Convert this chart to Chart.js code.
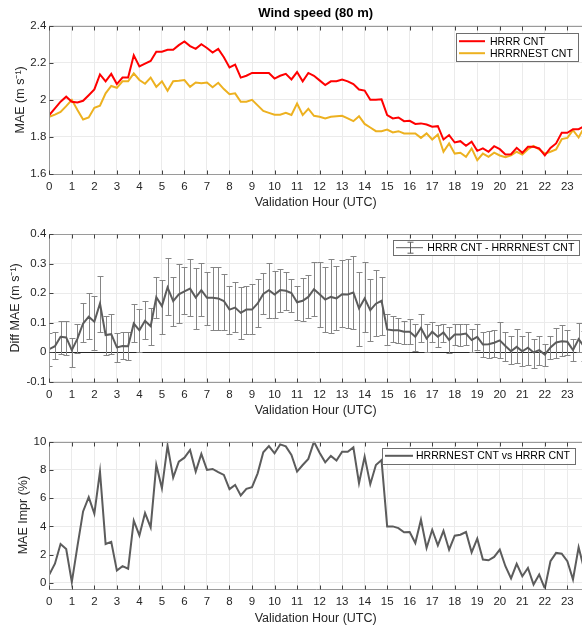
<!DOCTYPE html>
<html>
<head>
<meta charset="utf-8">
<script src="https://cdn.jsdelivr.net/npm/chart.js@4.4.1/dist/chart.umd.min.js"></script>
<style>
  html, body { margin: 0; padding: 0; background: #fff; }
  #wrap { position: relative; width: 582px; height: 628px; overflow: hidden; }
  #wrap canvas { position: absolute; left: 0; top: 0; }
</style>
</head>
<body>
<div id="wrap">
  <canvas id="speedChart" width="582" height="628"></canvas>
  <canvas id="diffChart" width="582" height="628"></canvas>
  <canvas id="imprChart" width="582" height="628"></canvas>
</div>
<script>
// validation hours, 15 min steps
const hours = [0,0.25,0.5,0.75, 1,1.25,1.5,1.75, 2,2.25,2.5,2.75, 3,3.25,3.5,3.75,
  4,4.25,4.5,4.75, 5,5.25,5.5,5.75, 6,6.25,6.5,6.75, 7,7.25,7.5,7.75,
  8,8.25,8.5,8.75, 9,9.25,9.5,9.75, 10,10.25,10.5,10.75, 11,11.25,11.5,11.75,
  12,12.25,12.5,12.75, 13,13.25,13.5,13.75, 14,14.25,14.5,14.75, 15,15.25,15.5,15.75,
  16,16.25,16.5,16.75, 17,17.25,17.5,17.75, 18,18.25,18.5,18.75, 19,19.25,19.5,19.75,
  20,20.25,20.5,20.75, 21,21.25,21.5,21.75, 22,22.25,22.5,22.75, 23,23.25,23.5,23.75];

// MAE, wind speed 80 m (m/s)
const hrrrCnt = [1.918,1.954,1.990,2.017, 1.990,1.986,1.995,2.025, 2.056,2.137,2.100,2.140,
  2.085,2.120,2.120,2.240, 2.180,2.195,2.210,2.260, 2.260,2.270,2.270,2.295,
  2.315,2.290,2.275,2.300, 2.280,2.255,2.275,2.230, 2.175,2.190,2.120,2.130,
  2.145,2.145,2.145,2.145, 2.115,2.130,2.140,2.110, 2.150,2.100,2.145,2.130,
  2.105,2.080,2.100,2.100, 2.110,2.100,2.085,2.056, 2.050,2.000,2.000,2.003,
  1.918,1.900,1.905,1.885, 1.887,1.870,1.873,1.867, 1.855,1.858,1.786,1.810,
  1.770,1.777,1.752,1.774, 1.725,1.738,1.720,1.750, 1.734,1.705,1.707,1.741,
  1.714,1.747,1.747,1.738, 1.700,1.741,1.765,1.822, 1.822,1.842,1.842,1.858];

const nestCnt = [1.909,1.920,1.935,1.966, 2.000,1.945,1.894,1.905, 1.957,1.968,2.035,2.075,
  2.065,2.100,2.100,2.143, 2.107,2.087,2.120,2.070, 2.100,2.049,2.100,2.103,
  2.107,2.070,2.094,2.090, 2.094,2.068,2.092,2.058, 2.030,2.035,1.990,1.990,
  2.000,1.970,1.940,1.930, 1.920,1.920,1.930,1.918, 1.980,1.918,1.952,1.914,
  1.909,1.900,1.909,1.912, 1.914,1.900,1.885,1.912, 1.870,1.851,1.831,1.831,
  1.840,1.824,1.831,1.819, 1.819,1.819,1.795,1.819, 1.786,1.813,1.720,1.765,
  1.710,1.715,1.693,1.738, 1.675,1.710,1.693,1.715, 1.700,1.690,1.700,1.720,
  1.705,1.734,1.752,1.732, 1.710,1.720,1.732,1.788, 1.795,1.837,1.797,1.853];

// HRRR CNT - HRRRNEST CNT, mean and error bar ends
const diffMean = [0.010,0.020,0.052,0.050, 0.007,0.046,0.097,0.120, 0.103,0.165,0.058,0.061,
  0.016,0.021,0.020,0.097, 0.074,0.106,0.088,0.186, 0.156,0.219,0.173,0.196,
  0.206,0.215,0.185,0.210, 0.184,0.184,0.182,0.173, 0.144,0.151,0.133,0.144,
  0.144,0.165,0.197,0.210, 0.195,0.210,0.208,0.200, 0.169,0.174,0.187,0.213,
  0.196,0.178,0.187,0.182, 0.196,0.195,0.202,0.148, 0.182,0.142,0.164,0.174,
  0.077,0.074,0.074,0.069, 0.069,0.052,0.082,0.046, 0.069,0.052,0.067,0.041,
  0.060,0.060,0.063,0.041, 0.052,0.026,0.027,0.032, 0.040,0.021,0.003,0.018,
  0.003,0.015,-0.001,0.007, -0.008,0.016,0.033,0.037, 0.035,0.007,0.044,0.018];

const diffHigh = [0.065,0.069,0.107,0.105, 0.049,0.095,0.165,0.199, 0.190,0.257,0.123,0.128,
  0.065,0.069,0.069,0.164, 0.146,0.173,0.148,0.254, 0.244,0.320,0.254,0.297,
  0.287,0.314,0.286,0.302, 0.272,0.289,0.287,0.266, 0.225,0.238,0.221,0.225,
  0.232,0.246,0.269,0.302, 0.275,0.283,0.272,0.246, 0.225,0.250,0.261,0.306,
  0.306,0.287,0.315,0.291, 0.312,0.314,0.325,0.270, 0.304,0.246,0.277,0.255,
  0.128,0.122,0.116,0.105, 0.111,0.097,0.128,0.095, 0.103,0.091,0.097,0.086,
  0.095,0.095,0.097,0.080, 0.094,0.069,0.072,0.074, 0.103,0.069,0.055,0.077,
  0.055,0.067,0.043,0.054, 0.029,0.055,0.082,0.091, 0.074,0.044,0.099,0.070];

const diffLow = [-0.047,-0.024,-0.005,-0.010, -0.050,-0.002,0.033,0.043, 0.009,0.069,-0.010,-0.006,
  -0.033,-0.024,-0.027,0.033, 0.001,0.046,0.024,0.114, 0.061,0.125,0.088,0.099,
  0.130,0.122,0.078,0.122, 0.091,0.074,0.074,0.074, 0.061,0.067,0.044,0.063,
  0.061,0.086,0.129,0.116, 0.116,0.137,0.142,0.136, 0.110,0.105,0.117,0.123,
  0.084,0.069,0.065,0.074, 0.084,0.082,0.080,0.020, 0.067,0.037,0.055,0.058,
  0.024,0.033,0.032,0.029, 0.027,0.003,0.035,0.001, 0.033,0.018,0.035,-0.002,
  0.024,0.021,0.024,0.001, 0.007,-0.016,-0.021,-0.016, -0.021,-0.029,-0.041,-0.038,
  -0.046,-0.042,-0.052,-0.042, -0.046,-0.024,-0.019,-0.014, -0.008,-0.029,-0.001,-0.030];

// MAE improvement (%) HRRRNEST CNT vs HRRR CNT
const maeImpr = [0.59,1.36,2.75,2.40, 0.05,2.60,5.06,6.07, 4.90,7.88,2.75,2.90,
  0.87,1.18,1.00,4.40, 3.36,4.94,3.93,8.35, 6.70,9.72,7.46,8.59,
  8.87,9.41,7.88,9.13, 8.00,8.07,7.84,7.65, 6.64,6.94,6.19,6.66,
  6.78,7.76,9.25,9.69, 9.18,9.81,9.67,9.06, 7.88,8.35,8.78,10.0,
  9.22,8.54,8.99,8.66, 9.29,9.29,9.60,7.06, 8.94,6.99,8.35,8.70,
  4.00,4.00,3.88,3.58, 3.60,2.82,4.47,2.47, 3.76,2.66,3.69,2.35,
  3.34,3.41,3.60,2.16, 3.13,1.65,1.60,1.84, 2.35,1.18,0.31,1.34,
  0.47,1.06,-0.12,0.59, -0.40,1.53,2.12,2.07, 1.53,0.24,2.52,0.94];

const FONT = "'Liberation Sans', Arial, Helvetica, sans-serif";
Chart.defaults.font.family = FONT;
Chart.defaults.color = '#262626';

const toPoints = values => hours.map((h, i) => ({ x: h, y: values[i] }));
const fmtTick = v => String(Number(v.toFixed(2)));

function hourAxis(height, titleBottom) {
    return {
        type: 'linear', min: 0, max: 23.65,
        ticks: { stepSize: 1, includeBounds: false, autoSkip: false, maxRotation: 0,
                 padding: 6, font: { size: 11.5 }, color: '#262626' },
        grid: { color: '#ebebeb', drawTicks: false },
        border: { display: false },
        title: { display: true, text: 'Validation Hour (UTC)', font: { size: 12.5 },
                 color: '#262626', padding: { top: 0, bottom: titleBottom } },
        afterFit: s => { s.height = height; }
    };
}

function valueAxis(min, max, step, label, titleTop, gridColor) {
    return {
        min: min, max: max,
        ticks: { stepSize: step, includeBounds: false, padding: 3, font: { size: 11.5 },
                 color: '#262626', callback: fmtTick },
        grid: { color: gridColor || '#ebebeb', drawTicks: false },
        border: { display: false },
        title: { display: true, text: label, font: { size: 12.5 }, color: '#262626',
                 padding: { top: titleTop, bottom: 0 } },
        afterFit: s => { s.width = 49.3; }
    };
}

// matlab style box with inward tick marks
const axesFrame = {
    id: 'axesFrame',
    afterDatasetsDraw(chart) {
        const { ctx, chartArea: a, scales: { x, y } } = chart;
        const L = Math.round(a.left) + 0.5, T = Math.round(a.top) + 0.5, B = Math.round(a.bottom) + 0.5;
        ctx.save();
        ctx.strokeStyle = '#9a9a9a';
        ctx.lineWidth = 1;
        ctx.beginPath();
        ctx.moveTo(a.right + 2, T); ctx.lineTo(L, T); ctx.lineTo(L, B); ctx.lineTo(a.right + 2, B);
        ctx.stroke();
        ctx.strokeStyle = '#404040';
        ctx.beginPath();
        x.ticks.forEach(t => {
            const px = Math.round(x.getPixelForValue(t.value)) + 0.5;
            ctx.moveTo(px, B); ctx.lineTo(px, B - 4);
            ctx.moveTo(px, T); ctx.lineTo(px, T + 4);
        });
        y.ticks.forEach(t => {
            const py = Math.round(y.getPixelForValue(t.value)) + 0.5;
            ctx.moveTo(L, py); ctx.lineTo(L + 4, py);
        });
        ctx.stroke();
        ctx.restore();
    }
};

// legend box drawn inside the axes, top right
const boxLegend = {
    id: 'boxLegend',
    afterDraw(chart, args, opts) {
        if (!opts.items) return;
        const { ctx, chartArea: a } = chart;
        ctx.save();
        ctx.font = `10.5px ${FONT}`;
        const textW = Math.max(...opts.items.map(it => ctx.measureText(it.text).width));
        const w = opts.textX + textW + 5;
        const h = opts.rowH * opts.items.length + opts.padY * 2;
        const left = Math.round(a.right - opts.right - w), top = Math.round(a.top + opts.top);
        ctx.fillStyle = '#fff';
        ctx.fillRect(left, top, w, h);
        ctx.strokeStyle = '#6e6e6e';
        ctx.lineWidth = 1;
        ctx.strokeRect(left + 0.5, top + 0.5, Math.round(w), Math.round(h));
        opts.items.forEach((it, i) => {
            const cy = top + opts.padY + opts.rowH * (i + 0.5);
            ctx.strokeStyle = it.color;
            ctx.lineWidth = it.width;
            ctx.beginPath();
            ctx.moveTo(left + 3, cy); ctx.lineTo(left + 3 + opts.lineLen, cy);
            ctx.stroke();
            if (it.errorBar) {
                const ex = Math.round(left + 3 + opts.lineLen / 2) + 0.5;
                ctx.strokeStyle = it.barColor;
                ctx.lineWidth = 1;
                ctx.beginPath();
                ctx.moveTo(ex, cy - 5.5); ctx.lineTo(ex, cy + 5.5);
                ctx.moveTo(ex - 3, cy - 5.5); ctx.lineTo(ex + 3, cy - 5.5);
                ctx.moveTo(ex - 3, cy + 5.5); ctx.lineTo(ex + 3, cy + 5.5);
                ctx.stroke();
            }
            ctx.fillStyle = '#000';
            ctx.textBaseline = 'middle';
            ctx.fillText(it.text, left + opts.textX, cy + 0.5);
        });
        ctx.restore();
    }
};

const plotTitle = {
    id: 'plotTitle',
    afterDraw(chart, args, opts) {
        if (!opts.text) return;
        const { ctx, chartArea: a } = chart;
        ctx.save();
        ctx.font = `bold 13px ${FONT}`;
        ctx.fillStyle = '#000';
        ctx.textAlign = 'center';
        ctx.textBaseline = 'middle';
        ctx.fillText(opts.text, (a.left + a.right) / 2, opts.y);
        ctx.restore();
    }
};

// error bars from the diff arrays, under the mean line
const errorBars = {
    id: 'errorBars',
    beforeDatasetsDraw(chart, args, opts) {
        if (!opts.high) return;
        const { ctx, chartArea: a, scales: { x, y } } = chart;
        ctx.save();
        ctx.beginPath();
        ctx.rect(a.left, a.top, a.right - a.left, a.bottom - a.top);
        ctx.clip();
        ctx.strokeStyle = opts.color;
        ctx.lineWidth = 1;
        ctx.beginPath();
        hours.forEach((hr, i) => {
            const px = Math.round(x.getPixelForValue(hr)) + 0.5;
            const yt = Math.round(y.getPixelForValue(opts.high[i])) + 0.5;
            const yb = Math.round(y.getPixelForValue(opts.low[i])) + 0.5;
            ctx.moveTo(px, yt); ctx.lineTo(px, yb);
            ctx.moveTo(px - 3, yt); ctx.lineTo(px + 3, yt);
            ctx.moveTo(px - 3, yb); ctx.lineTo(px + 3, yb);
        });
        ctx.stroke();
        ctx.restore();
    }
};

Chart.register(axesFrame, boxLegend, plotTitle, errorBars);

const common = { responsive: false, animation: false, devicePixelRatio: 1, events: [] };

new Chart(document.getElementById('speedChart'), {
    type: 'line',
    data: {
        datasets: [
            { label: 'HRRR CNT', data: toPoints(hrrrCnt), borderColor: '#ff0000', borderWidth: 2, pointRadius: 0, tension: 0 },
            { label: 'HRRRNEST CNT', data: toPoints(nestCnt), borderColor: '#edb120', borderWidth: 2, pointRadius: 0, tension: 0 }
        ]
    },
    options: Object.assign({}, common, {
        layout: { padding: { left: 0, right: 0, top: 25.7, bottom: 628 - 174 - 42 } },
        scales: {
            x: hourAxis(42, 5.5),
            y: valueAxis(1.6, 2.4, 0.2, 'MAE (m s\u207B\u00B9)', 13)
        },
        plugins: {
            legend: { display: false }, tooltip: { enabled: false },
            plotTitle: { text: 'Wind speed (80 m)', y: 13 },
            boxLegend: {
                right: 3.7, top: 7.3, padY: 2.2, rowH: 12, lineLen: 26, textX: 34,
                items: [
                    { text: 'HRRR CNT', color: '#ff0000', width: 2 },
                    { text: 'HRRRNEST CNT', color: '#edb120', width: 2 }
                ]
            }
        }
    })
});

new Chart(document.getElementById('diffChart'), {
    type: 'line',
    data: {
        datasets: [
            { label: 'HRRR CNT - HRRRNEST CNT', data: toPoints(diffMean), borderColor: '#5c5c5c', borderWidth: 2, pointRadius: 0, tension: 0 }
        ]
    },
    options: Object.assign({}, common, {
        layout: { padding: { left: 0, right: 0, top: 234, bottom: 628 - 381.7 - 42 } },
        scales: {
            x: hourAxis(42, 5.5),
            y: valueAxis(-0.1, 0.4, 0.1, 'Diff MAE (m s\u207B\u00B9)', 7.8,
                c => (c.tick && Math.abs(c.tick.value) < 1e-9) ? '#262626' : '#ebebeb')
        },
        plugins: {
            legend: { display: false }, tooltip: { enabled: false },
            errorBars: { high: diffHigh, low: diffLow, color: '#858585' },
            boxLegend: {
                right: 2.7, top: 6, padY: 1.7, rowH: 12, lineLen: 27, textX: 34.3,
                items: [
                    { text: 'HRRR CNT - HRRRNEST CNT', color: '#5c5c5c', width: 1, errorBar: true, barColor: '#5c5c5c' }
                ]
            }
        }
    })
});

new Chart(document.getElementById('imprChart'), {
    type: 'line',
    data: {
        datasets: [
            { label: 'HRRRNEST CNT vs HRRR CNT', data: toPoints(maeImpr), borderColor: '#5c5c5c', borderWidth: 2, pointRadius: 0, tension: 0 }
        ]
    },
    options: Object.assign({}, common, {
        layout: { padding: { left: 0, right: 0, top: 441.7, bottom: 0 } },
        scales: {
            x: hourAxis(628 - 588.5, 1.5),
            y: valueAxis(-0.4, 10, 2, 'MAE Impr (%)', 15.8)
        },
        plugins: {
            legend: { display: false }, tooltip: { enabled: false },
            boxLegend: {
                right: 6.7, top: 6, padY: 1.8, rowH: 12, lineLen: 28, textX: 34,
                items: [
                    { text: 'HRRRNEST CNT vs HRRR CNT', color: '#5c5c5c', width: 2 }
                ]
            }
        }
    })
});
</script>
</body>
</html>
